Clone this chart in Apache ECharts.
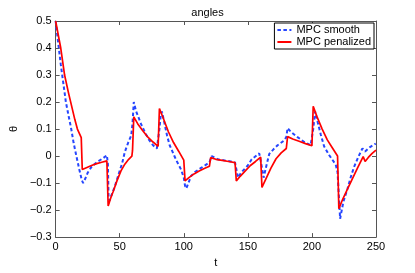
<!DOCTYPE html>
<html>
<head>
<meta charset="utf-8">
<script src="https://cdn.jsdelivr.net/npm/echarts@6/dist/echarts.min.js"></script>
<style>html,body{margin:0;padding:0;background:#fff}#c{width:415px;height:273px}</style>
</head>
<body>
<div id="c"></div>
<script>
const xTicks = [0, 50, 100, 150, 200, 250];
const yTicks = [-0.3, -0.2, -0.1, 0, 0.1, 0.2, 0.3, 0.4, 0.5];

const smooth = [
  [0,0.5],[2,0.42],[4,0.34],[6,0.27],[8,0.2],[10.5,0.14],[12.2,0.1],[14,0.05],[16.2,0.0],[18.5,-0.05],[20.5,-0.09],[21.5,-0.1],
  [23,-0.085],[25,-0.062],[28,-0.04],[33,-0.02],[37,-0.008],[40,0.003],
  [40.8,-0.03],[41.3,-0.15],[42,-0.165],[44,-0.14],[46,-0.115],[49,-0.07],[52,-0.025],[54,0.015],[56.5,0.048],[59,0.076],[60,0.12],[61,0.2],
  [62.8,0.166],[66.7,0.118],[70,0.085],[73.2,0.058],[76,0.04],[79,0.028],[80,0.03],
  [81,0.1],[82,0.15],[83,0.165],[85,0.12],[87,0.075],[89,0.04],[92.5,0.002],[94,-0.014],[97.9,-0.05],[100,-0.08],[101,-0.11],[102,-0.12],
  [105.7,-0.074],[109,-0.058],[113.5,-0.044],[120,-0.024],[121.8,0.0],[126.5,-0.012],[136.8,-0.02],[140,-0.024],
  [141.5,-0.06],[142.3,-0.08],[145,-0.06],[149.8,-0.036],[153,-0.012],[158.9,0.01],[160,0.015],
  [161.3,-0.05],[162.3,-0.08],[164.5,-0.035],[166.7,0.008],[170,0.025],[173.2,0.04],[178.4,0.058],[180,0.07],[181,0.103],
  [184,0.088],[188.8,0.07],[194,0.052],[199,0.04],[200,0.042],
  [201,0.1],[202.5,0.165],[204.5,0.125],[207,0.078],[209.5,0.036],[213.4,0.004],[218.6,-0.032],[220,-0.06],[222,-0.232],
  [224.5,-0.17],[227.7,-0.122],[230.5,-0.075],[232.9,-0.04],[236.5,0.0],[239.4,0.028],[240,0.03],[241.5,0.017],[245,0.032],[249.8,0.046],[250,0.047]
];

const penalized = [
  [0,0.5],[2,0.45],[4,0.4],[7,0.3],[10,0.235],[12,0.195],[15,0.135],[17,0.1],[20,0.068],
  [20.8,-0.05],[24,-0.043],[28,-0.035],[32,-0.028],[36,-0.023],[40,-0.018],
  [41,-0.185],[43,-0.155],[45,-0.13],[48,-0.09],[51,-0.055],[54,-0.03],[57,-0.012],[59.5,0.0],[60,0.02],
  [61,0.145],[64,0.12],[68,0.094],[72,0.07],[76,0.052],[80,0.036],
  [81,0.176],[84,0.14],[88,0.09],[92,0.05],[96,0.018],[100,-0.015],
  [101,-0.092],[104,-0.08],[108,-0.066],[112,-0.055],[116,-0.046],[120,-0.038],
  [121,-0.006],[125,-0.012],[130,-0.016],[135,-0.02],[140,-0.024],
  [141,-0.092],[144,-0.075],[148,-0.055],[152,-0.035],[156,-0.02],[160,-0.004],
  [161,-0.116],[164,-0.085],[168,-0.045],[172,-0.01],[176,0.012],[180,0.028],
  [181,0.072],[185,0.063],[190,0.055],[195,0.046],[200,0.038],
  [201,0.184],[204,0.145],[208,0.1],[212,0.06],[216,0.03],[220,0.0],
  [221,-0.195],[224,-0.16],[228,-0.12],[232,-0.08],[236,-0.04],[240,-0.002],
  [241.5,-0.02],[244,-0.005],[247,0.01],[250,0.022]
];

const chart = echarts.init(document.getElementById('c'), null, {renderer:'canvas'});
const font = 'Liberation Sans, Arial, Helvetica, sans-serif';
const axisCommon = () => ({
  axisLine:{show:true, onZero:false, lineStyle:{color:'#555', width:1}},
  axisTick:{show:true, inside:true, length:4, lineStyle:{color:'#555'}},
  splitLine:{show:false}
});
chart.setOption({
  animation:false,
  backgroundColor:'#fff',
  title:{text:'angles', left:'center', top:2, textStyle:{fontSize:11, fontWeight:'normal', color:'#000', fontFamily:font}},
  grid:{left:54, right:39, top:21, bottom:30},
  legend:{
    orient:'vertical', right:41, top:23, backgroundColor:'#fff', borderColor:'#000', borderWidth:1,
    padding:[1,3,1,2], itemGap:0, itemWidth:14, itemHeight:12,
    itemStyle:{opacity:0},
    textStyle:{fontSize:11, color:'#000', fontFamily:font, lineHeight:12},
    data:['MPC smooth','MPC penalized']
  },
  xAxis:[
    Object.assign({type:'value', min:0, max:250, interval:50, position:'bottom',
      name:'t', nameLocation:'middle', nameGap:18, nameTextStyle:{fontSize:11, color:'#000', fontFamily:font},
      axisLabel:{fontSize:11, color:'#000', margin:4, fontFamily:font}}, axisCommon()),
    Object.assign({type:'value', min:0, max:250, interval:50, position:'top', axisLabel:{show:false}}, axisCommon())
  ],
  yAxis:[
    Object.assign({type:'value', min:-0.3, max:0.5, interval:0.1, position:'left',
      name:'θ', nameLocation:'middle', nameGap:31, nameTextStyle:{fontSize:11, color:'#000', fontFamily:font},
      axisLabel:{fontSize:11, color:'#000', margin:4, fontFamily:font,
        formatter:v=>{const r=Math.round(v*10)/10; return r===0?'0':(r<0?'\u2212'+Math.abs(r):String(r));}}}, axisCommon()),
    Object.assign({type:'value', min:-0.3, max:0.5, interval:0.1, position:'right', axisLabel:{show:false}}, axisCommon())
  ],
  series:[
    {name:'MPC smooth', type:'line', data:smooth, showSymbol:false, symbol:'none',
     lineStyle:{color:'#2545ff', width:2, type:[3.5,2.5]}, itemStyle:{color:'#2545ff'}, z:2},
    {name:'MPC penalized', type:'line', data:penalized, showSymbol:false, symbol:'none',
     lineStyle:{color:'#ff0000', width:1.7}, itemStyle:{color:'#ff0000'}, z:3}
  ]
});
</script>
</body>
</html>
